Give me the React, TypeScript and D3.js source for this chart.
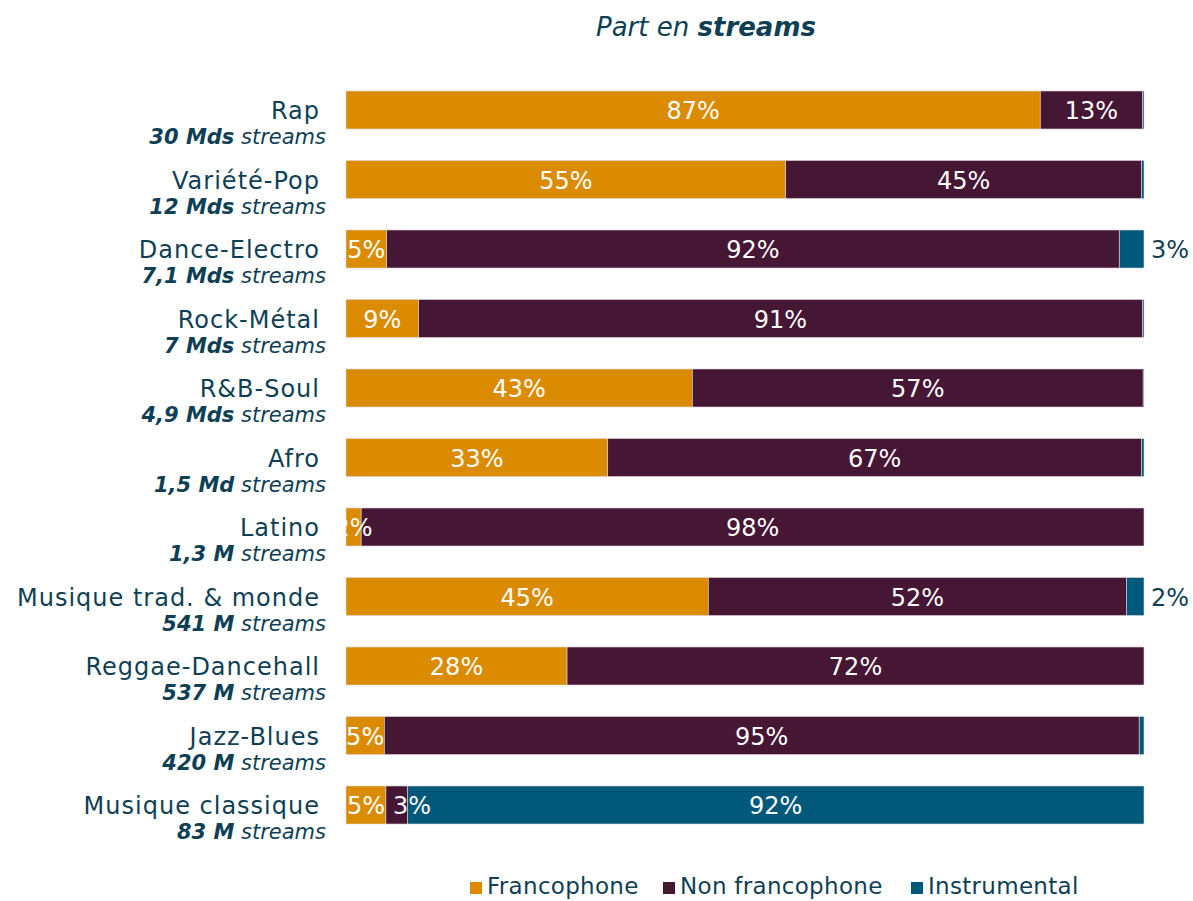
import React from "react";
import * as d3 from "d3";

const genres = [
  "Rap",
  "Variété-Pop",
  "Dance-Electro",
  "Rock-Métal",
  "R&B-Soul",
  "Afro",
  "Latino",
  "Musique trad. & monde",
  "Reggae-Dancehall",
  "Jazz-Blues",
  "Musique classique",
];
const streamAmounts = ["30 Mds", "12 Mds", "7,1 Mds", "7 Mds", "4,9 Mds", "1,5 Md", "1,3 M", "541 M", "537 M", "420 M", "83 M"];
const francophone = [87, 55.1, 5.1, 9.1, 43.4, 32.8, 1.9, 45.4, 27.7, 4.8, 5.0];
const nonFrancophone = [12.8, 44.6, 91.8, 90.7, 56.5, 66.9, 98.1, 52.4, 72.3, 94.6, 2.7];
const instrumental = [0.2, 0.3, 3.1, 0.2, 0.1, 0.3, 0, 2.2, 0, 0.6, 92.3];
const seriesNames = ["Francophone", "Non francophone", "Instrumental"];
const seriesColors = ["#DB8B00", "#461635", "#00587A"];

const TEXT = "#0E3F55";
const FONT = "'DejaVu Sans', sans-serif";

export default function App() {
  const width = 1193;
  const height = 901;
  const x = d3.scaleLinear().domain([0, 100]).range([346, 1144]);
  const y = d3
    .scaleBand<string>()
    .domain(genres)
    .range([75.25, 839.75])
    .paddingInner(0.453)
    .paddingOuter(0.2265);

  const rows = genres.map((g, i) => ({
    genre: g,
    Francophone: francophone[i],
    "Non francophone": nonFrancophone[i],
    Instrumental: instrumental[i],
  }));
  const stack = d3.stack<any>().keys(seriesNames);
  const stacked = stack(rows);
  const bw = y.bandwidth();

  const legendX = [470, 663, 911];
  const labelFont = 24;
  const labelWidth = (t: string) => (t.length - 1) * 0.636 * labelFont + 0.95 * labelFont;

  // label positions per row, nudged right to avoid overlapping the previous label
  const labels: any[] = [];
  genres.forEach((g, i) => {
    let prevEnd = -Infinity;
    stacked.forEach((layer, si) => {
      const d = layer[i];
      const v = d[1] - d[0];
      if (v < 1) return;
      const text = Math.round(v) + "%";
      const w = labelWidth(text);
      const cy = (y(g) as number) + bw / 2;
      const outside = layer.key === "Instrumental" && v < 5;
      if (outside) {
        labels.push({ key: g + si, x: x(d[1]) + 7, y: cy + 9, text, anchor: "start", fill: TEXT });
        return;
      }
      let cx = (x(d[0]) + x(d[1])) / 2;
      if (cx - w / 2 < prevEnd + 8) cx = prevEnd + 8 + w / 2;
      prevEnd = cx + w / 2;
      labels.push({ key: g + si, x: cx, y: cy + 9, text, anchor: "middle", fill: "#fff" });
    });
  });

  return (
    <svg
      width={width}
      height={height}
      style={{ position: "absolute", left: 0, top: 0, background: "#fff" }}
      fontFamily={FONT}
    >
      <text x={706} y={36} textAnchor="middle" fontSize={26} fill={TEXT} fontStyle="italic">
        Part en <tspan fontWeight="bold">streams</tspan>
      </text>

      {genres.map((g, i) => {
        const cy = (y(g) as number) + bw / 2;
        return (
          <g key={g}>
            <text x={320} y={cy + 9} textAnchor="end" fontSize={24} letterSpacing={1} fill={TEXT}>
              {g}
            </text>
            <text x={326} y={cy + 34} textAnchor="end" fontSize={21} fill={TEXT} fontStyle="italic">
              <tspan fontWeight="bold">{streamAmounts[i]}</tspan> streams
            </text>
          </g>
        );
      })}

      {stacked.map((layer, si) => (
        <g key={layer.key}>
          {layer.map((d, i) => {
            const w = x(d[1]) - x(d[0]);
            if (w <= 0) return null;
            return (
              <rect
                key={i}
                x={x(d[0])}
                y={y(genres[i])}
                width={w}
                height={bw}
                fill={seriesColors[si]}
                stroke="#e3d8de"
                strokeWidth={0.6}
              />
            );
          })}
        </g>
      ))}

      {labels.map((l) => (
        <text key={l.key} x={l.x} y={l.y} textAnchor={l.anchor} fontSize={labelFont} fill={l.fill}>
          {l.text}
        </text>
      ))}

      {seriesNames.map((s, i) => (
        <g key={s}>
          <rect x={legendX[i]} y={882} width={12} height={12} fill={seriesColors[i]} />
          <text x={legendX[i] + 17} y={894} fontSize={23} letterSpacing={0.3} fill={TEXT}>
            {s}
          </text>
        </g>
      ))}
    </svg>
  );
}
